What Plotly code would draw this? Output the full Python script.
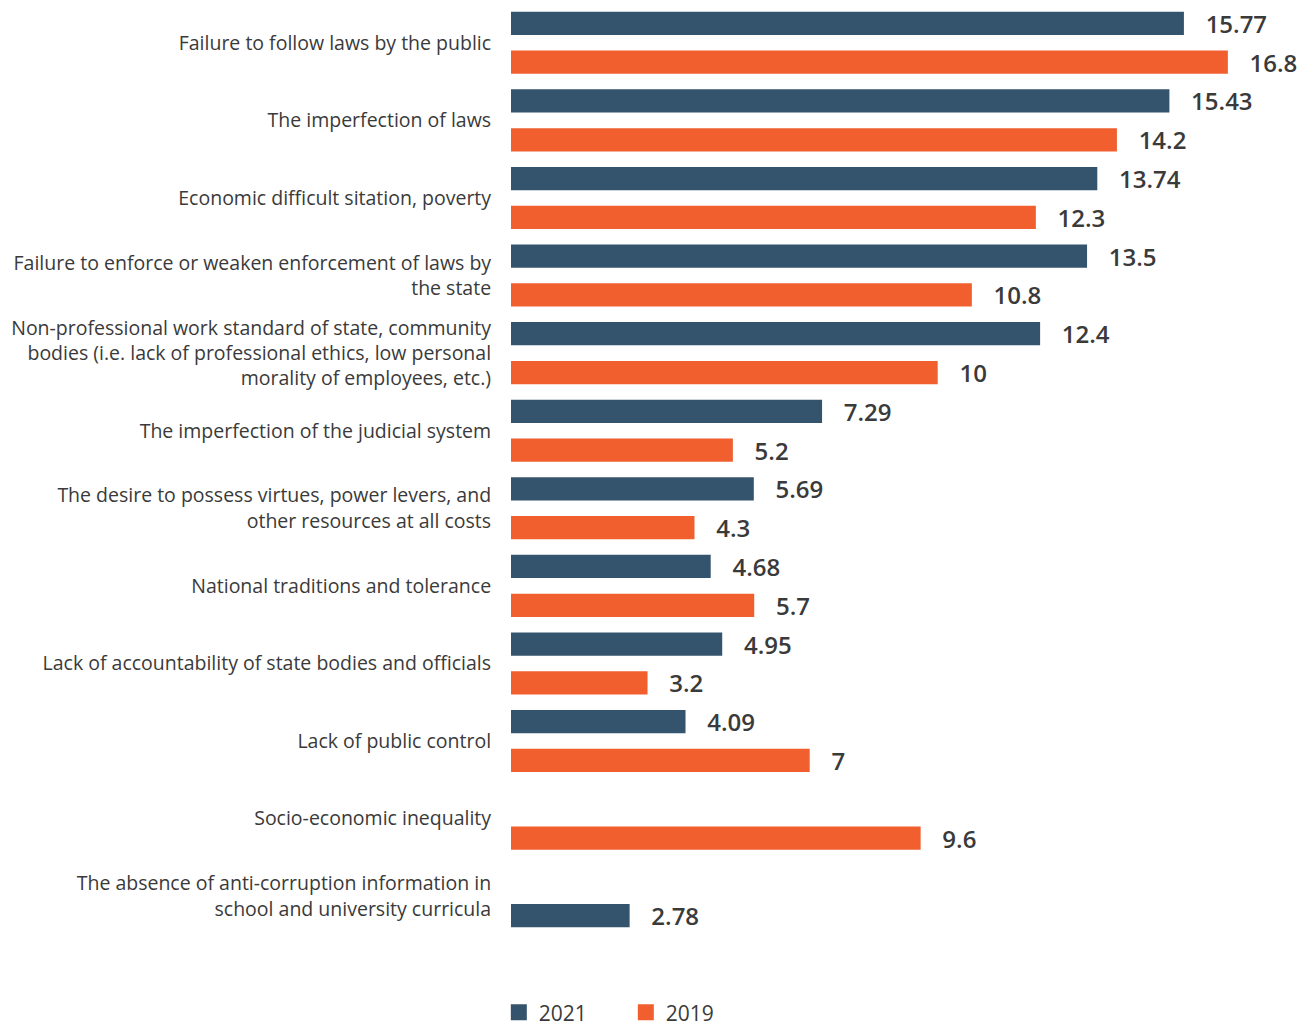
import plotly.graph_objects as go

# Survey categories, top to bottom
categories = [
    "Failure to follow laws by the public",
    "The imperfection of laws",
    "Economic difficult sitation, poverty",
    "Failure to enforce or weaken enforcement of laws by<br>the state",
    "Non-professional work standard of state, community<br>bodies (i.e. lack of professional ethics, low personal<br>morality of employees, etc.)",
    "The imperfection of the judicial system",
    "The desire to possess virtues, power levers, and<br>other resources at all costs",
    "National traditions and tolerance",
    "Lack of accountability of state bodies and officials",
    "Lack of public control",
    "Socio-economic inequality",
    "The absence of anti-corruption information in<br>school and university curricula",
]

values_2021 = [15.77, 15.43, 13.74, 13.5, 12.4, 7.29, 5.69, 4.68, 4.95, 4.09, None, 2.78]
values_2019 = [16.8, 14.2, 12.3, 10.8, 10, 5.2, 4.3, 5.7, 3.2, 7, 9.6, None]

BLUE = "#34536C"
ORANGE = "#F15F2F"
TEXT = "#3a3a3a"
FONT = "Open Sans"

BAR_W = 0.3
UPPER = -0.4
LOWER = 0.1


def labels(vals):
    # non-breaking spaces keep a gap between bar end and value
    return ["\u00a0\u00a0\u00a0" + f"{v:g}" if v is not None else "" for v in vals]


# A 2021 bar takes the lower slot when its category has no 2019 value
offsets_2021 = [UPPER if b is not None else LOWER for b in values_2019]
offsets_2019 = [LOWER for _ in values_2019]

fig = go.Figure()
fig.add_trace(go.Bar(
    y=categories, x=values_2021, orientation="h", name="2021",
    marker=dict(color=BLUE, line=dict(width=0)),
    width=BAR_W, offset=offsets_2021,
    text=labels(values_2021), textposition="outside", constraintext="none",
    textfont=dict(family=FONT, size=24, color=TEXT, weight=600),
    cliponaxis=False, showlegend=False, hoverinfo="skip",
))
fig.add_trace(go.Bar(
    y=categories, x=values_2019, orientation="h", name="2019",
    marker=dict(color=ORANGE, line=dict(width=0)),
    width=BAR_W, offset=offsets_2019,
    text=labels(values_2019), textposition="outside", constraintext="none",
    textfont=dict(family=FONT, size=24, color=TEXT, weight=600),
    cliponaxis=False, showlegend=False, hoverinfo="skip",
))

# Legend entries with larger square swatches
for name, color in (("2021", BLUE), ("2019", ORANGE)):
    fig.add_trace(go.Scatter(
        x=[None], y=[None], mode="markers", name=name,
        marker=dict(symbol="square", size=19, color=color),
    ))

fig.update_layout(
    width=1306, height=1026,
    margin=dict(l=511, r=9, t=4, b=91),
    barmode="overlay",
    paper_bgcolor="white", plot_bgcolor="white",
    font=dict(family=FONT, color=TEXT),
    xaxis=dict(range=[0, 18.42], visible=False, showgrid=False, zeroline=False),
    yaxis=dict(
        type="category", autorange="reversed",
        showgrid=False, zeroline=False, showline=False,
        ticks="outside", ticklen=15, tickcolor="rgba(0,0,0,0)",
        tickfont=dict(family=FONT, size=19.5, color=TEXT),
    ),
    legend=dict(
        orientation="h", x=-0.0155, xanchor="left", xref="paper",
        y=0.013, yanchor="middle", yref="container",
        font=dict(family=FONT, size=21, color=TEXT),
        entrywidth=82, entrywidthmode="pixels",
        itemsizing="trace",
    ),
)

fig.write_html("out.html")
